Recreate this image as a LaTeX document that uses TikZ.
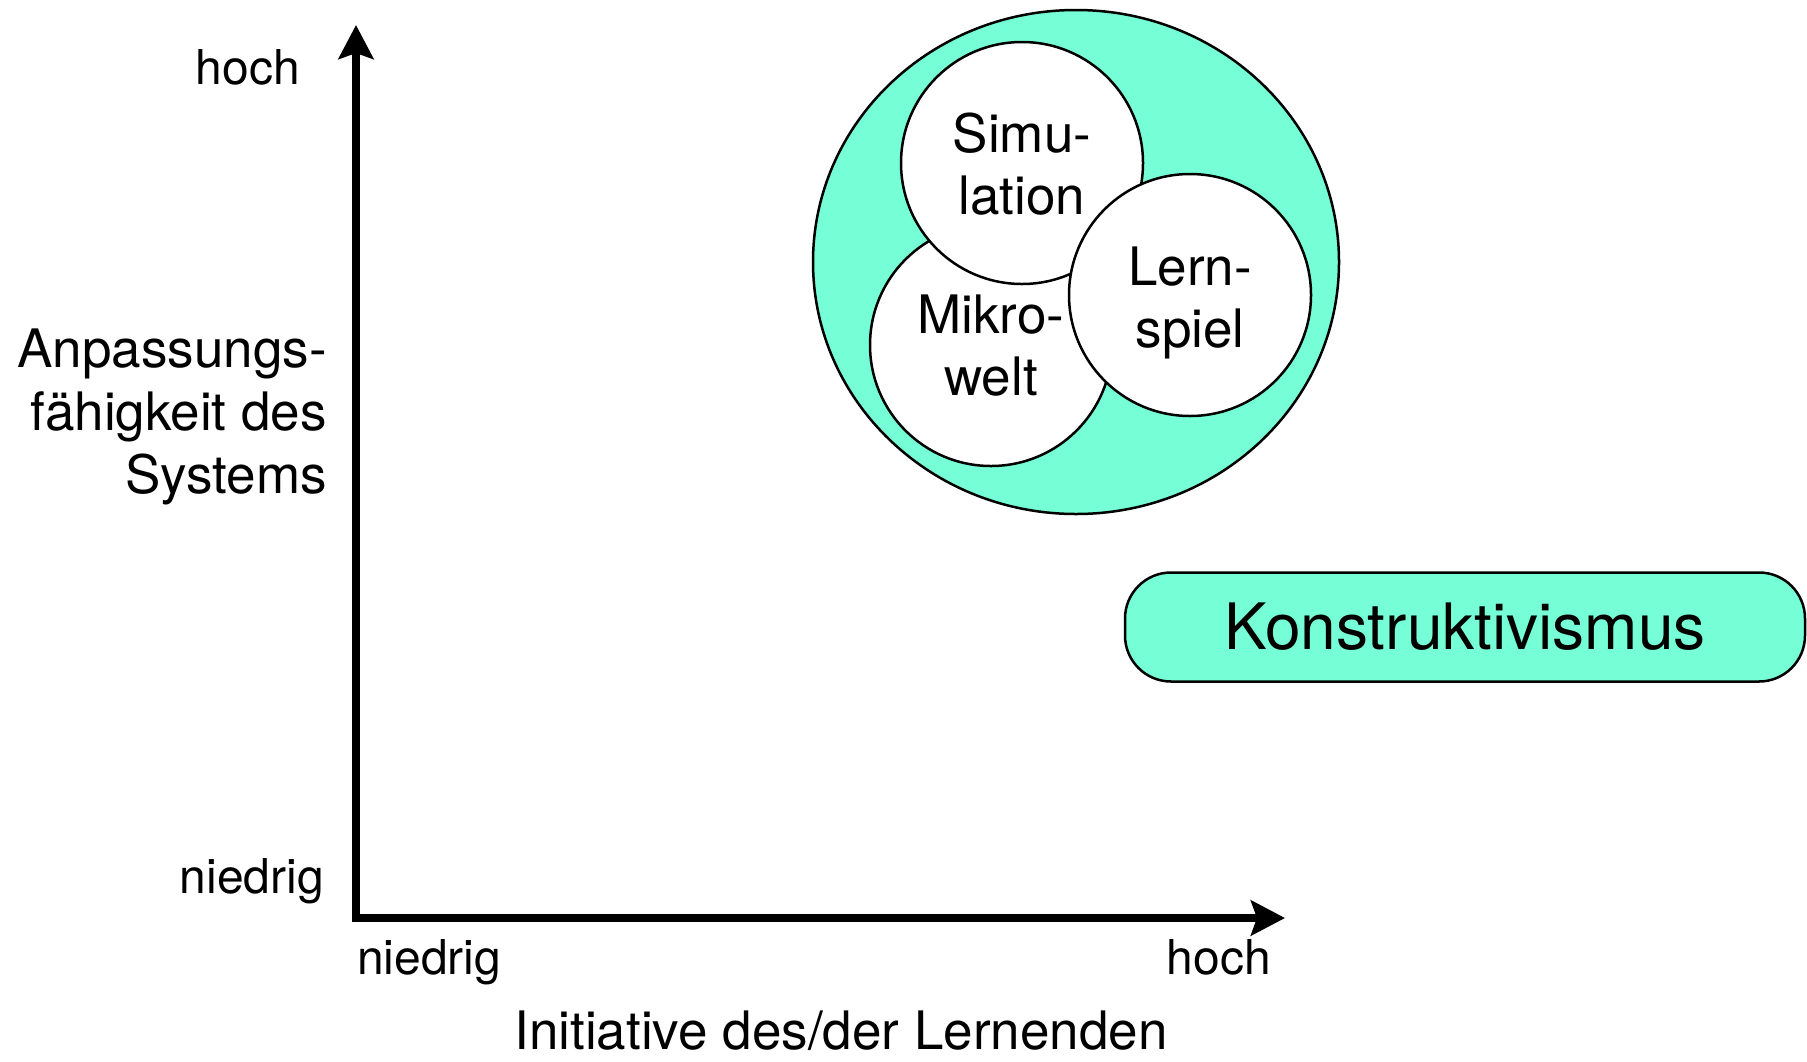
\documentclass[tikz,border=0pt]{standalone}
\usepackage{fontspec}
\setmainfont{TeX Gyre Heros}
\usetikzlibrary{arrows.meta,shapes.geometric}
\definecolor{aqua}{RGB}{118,255,214}
\begin{document}
\begin{tikzpicture}[x=1pt,y=-1pt,
  lbl/.style={font=\fontsize{53}{63}\selectfont, inner sep=0},
  tick/.style={font=\fontsize{48}{56}\selectfont, inner sep=0},
  circ/.style={circle, draw, line width=2.5pt, fill=white, minimum size=242pt, inner sep=0},
  circtext/.style={align=center, inner sep=0, font=\fontsize{53}{62}\selectfont},
  axis/.style={line width=8pt, line join=miter, {Stealth[length=34pt,width=35pt,inset=6pt]}-{Stealth[length=34pt,width=35pt,inset=6pt]}}]
\useasboundingbox (0,0) rectangle (1807,1061);
% outer ellipse and circles
\node[ellipse, draw, fill=aqua, line width=2.5pt, minimum width=526pt, minimum height=504pt, inner sep=0] (outer) at (1076,262) {};
\node[circ] (mikro) at (991,345) {};
\node[circtext] (mikrotext) at ([yshift=-1pt]mikro.center) {Mikro-\\welt};
\node[circ] (simu) at (1022,163) {};
\node[circtext] (simutext) at ([yshift=-1pt]simu.center) {Simu-\\lation};
\node[circ] (lern) at (1190,295) {};
\node[circtext] (lerntext) at ([yshift=-8pt]lern.center) {Lern-\\spiel};
% Konstruktivismus box
\node[draw, fill=aqua, line width=2.5pt, rounded corners=46pt, minimum width=680pt, minimum height=109pt, inner sep=0] (konst) at (1465,627) {};
\node[font=\fontsize{64}{70}\selectfont, inner sep=0] (konsttext) at (konst.center) {Konstruktivismus};
% axes
\coordinate (origin) at (356,918);
\coordinate (ytip) at (356,25);
\coordinate (xtip) at (1285,918);
\draw[axis] (ytip) -- (origin) -- (xtip);
% labels
\node[tick, anchor=base east] (yhoch) at (300,84) {hoch};
\node[tick, anchor=base east] (yniedrig) at (324,893) {niedrig};
\node[lbl, align=right, anchor=east] (ylabel) at (327,417) {Anpassungs-\\fähigkeit des\\Systems};
\node[tick, anchor=base west] (xniedrig) at (357,974) {niedrig};
\node[tick, anchor=base east] (xhoch) at (1271,974) {hoch};
\node[lbl, anchor=base] (xlabel) at (841,1049) {Initiative des/der Lernenden};
\end{tikzpicture}
\end{document}
